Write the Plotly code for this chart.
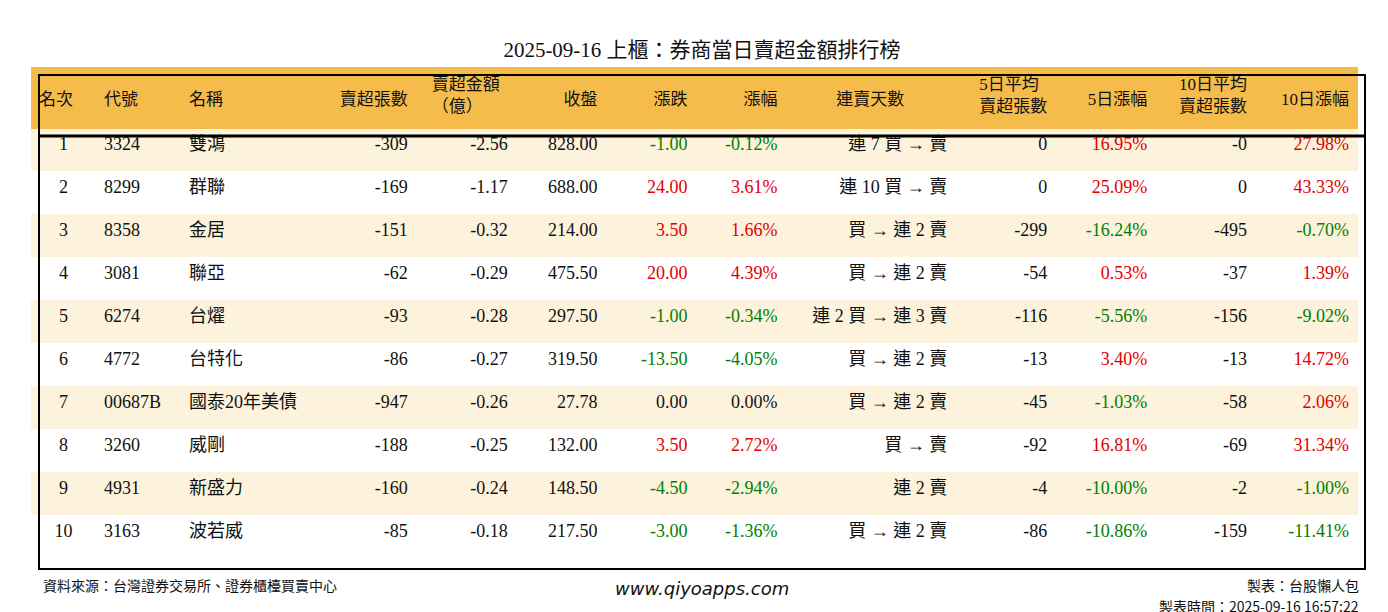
import plotly.graph_objects as go

rank = [1,2,3,4,5,6,7,8,9,10]
code = ["3324","8299","8358","3081","6274","4772","00687B","3260","4931","3163"]
name = ["雙鴻","群聯","金居","聯亞","台燿","台特化","國泰20年美債","威剛","新盛力","波若威"]
sell_vol = [-309,-169,-151,-62,-93,-86,-947,-188,-160,-85]
sell_amt = [-2.56,-1.17,-0.32,-0.29,-0.28,-0.27,-0.26,-0.25,-0.24,-0.18]
close = [828.00,688.00,214.00,475.50,297.50,319.50,27.78,132.00,148.50,217.50]
change = [-1.00,24.00,3.50,20.00,-1.00,-13.50,0.00,3.50,-4.50,-3.00]
pct = [-0.12,3.61,1.66,4.39,-0.34,-4.05,0.00,2.72,-2.94,-1.36]
streak = ["連 7 買 → 賣","連 10 買 → 賣","買 → 連 2 賣","買 → 連 2 賣","連 2 買 → 連 3 賣",
          "買 → 連 2 賣","買 → 連 2 賣","買 → 賣","連 2 賣","買 → 連 2 賣"]
avg5 = ["0","0","-299","-54","-116","-13","-45","-92","-4","-86"]
pct5 = [16.95,25.09,-16.24,0.53,-5.56,3.40,-1.03,16.81,-10.00,-10.86]
avg10 = ["-0","0","-495","-37","-156","-13","-58","-69","-2","-159"]
pct10 = [27.98,43.33,-0.70,1.39,-9.02,14.72,2.06,31.34,-1.00,-11.41]

pad = "<span style='font-size:9px'> </span><br>"
headers = [pad+"名次", pad+"代號", pad+"名稱", pad+"賣超張數", "賣超金額<br>（億）", pad+"收盤", pad+"漲跌",
           pad+"漲幅", pad+"連賣天數", "5日平均<br>賣超張數", pad+"5日漲幅", "10日平均<br>賣超張數", pad+"10日漲幅"]

RED, GREEN, BLACK = "#e00000", "#008000", "#111111"
def col(v):
    return RED if v > 0 else (GREEN if v < 0 else BLACK)

n = len(rank)
blk = [BLACK]*n
font_colors = [blk, blk, blk, blk, blk, blk,
               [col(v) for v in change], [col(v) for v in pct], blk, blk,
               [col(v) for v in pct5], blk, [col(v) for v in pct10]]
fills = ["#FDF3DC" if i % 2 == 0 else "#FFFFFF" for i in range(n)]

values = [rank, code, name, [str(v) for v in sell_vol], [f"{v:.2f}" for v in sell_amt],
          [f"{v:.2f}" for v in close], [f"{v:.2f}" for v in change], [f"{v:.2f}%" for v in pct],
          streak, avg5, [f"{v:.2f}%" for v in pct5], avg10, [f"{v:.2f}%" for v in pct10]]

widths = [65,85,130,105,100,90,90,90,170,100,100,100,102]
align = ["center","left","left","right","right","right","right","right","right","right","right","right","right"]
halign = ["left","left","left","right","center","right","right","right","center","right","right","right","right"]
FONT = "Liberation Serif, Noto Sans CJK TC, serif"
HDR = "#F5BC4C"

fig = go.Figure(go.Table(
    columnwidth=widths,
    header=dict(values=headers, fill_color=HDR, align=halign, height=61,
                line=dict(color=HDR, width=1),
                font=dict(family=FONT, size=17, color="#111")),
    cells=dict(values=values, fill_color=[fills]*13, align=align, height=43,
               line=dict(color=[fills]*13, width=1),
               font=dict(family=FONT, size=18, color=font_colors)),
    domain=dict(x=[23/1388, 1349/1388], y=[1-555/612, 1-59/612]),
))

x0, x1, yt, yb, yh = 31/1388, 1357/1388, 1-67/612, 1-561/612, 1-128/612
fig.add_shape(type="rect", xref="paper", yref="paper", x0=x0, x1=x1, y0=yb, y1=yt,
              line=dict(color="black", width=2))
fig.add_shape(type="line", xref="paper", yref="paper", x0=x0, x1=x1, y0=yh, y1=yh,
              line=dict(color="black", width=3))

CJK = "Noto Sans CJK TC, sans-serif"
fig.update_layout(
    width=1388, height=612, margin=dict(l=0, r=0, t=0, b=0),
    paper_bgcolor="white",
    title=dict(text="2025-09-16 上櫃：券商當日賣超金額排行榜", x=0.5, y=1-42/612, xanchor="center",
               yanchor="middle", font=dict(family=FONT, size=21, color="#111")),
    annotations=[
        dict(text="資料來源：台灣證券交易所、證券櫃檯買賣中心", x=33/1388, y=1-577/612, xref="paper", yref="paper",
             xanchor="left", yanchor="middle", showarrow=False, font=dict(family=CJK, size=14, color="#111")),
        dict(text="<i>www.qiyoapps.com</i>", x=694/1388, y=1-580/612, xref="paper", yref="paper",
             xanchor="center", yanchor="middle", showarrow=False, font=dict(family="DejaVu Sans", size=18, color="#111")),
        dict(text="製表：台股懶人包", x=1353/1388, y=1-577/612, xref="paper", yref="paper",
             xanchor="right", yanchor="middle", showarrow=False, font=dict(family=CJK, size=14, color="#111")),
        dict(text="製表時間：2025-09-16 16:57:22", x=1353/1388, y=1-598/612, xref="paper", yref="paper",
             xanchor="right", yanchor="middle", showarrow=False, font=dict(family=CJK, size=14, color="#111")),
    ],
)
fig.write_html("out.html")
